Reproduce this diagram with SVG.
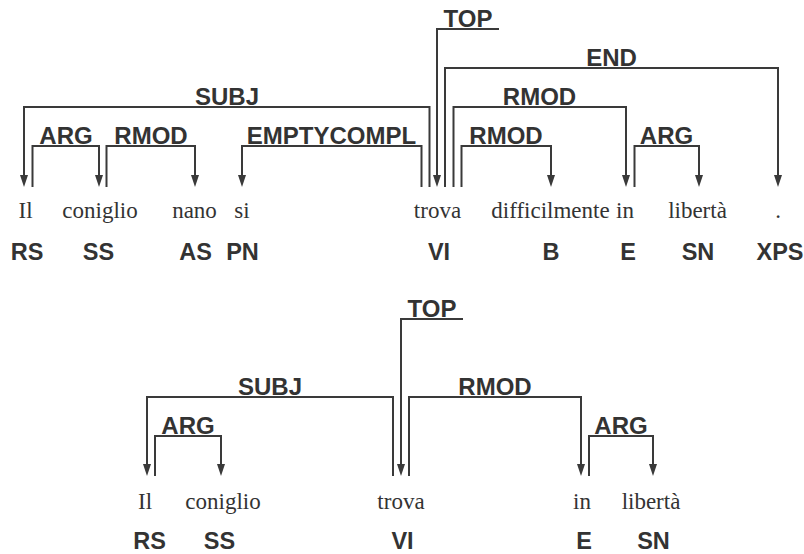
<svg xmlns="http://www.w3.org/2000/svg" width="804" height="554" viewBox="0 0 804 554">
<style>
.w{font-family:"Liberation Serif","Times New Roman",serif;font-size:23px;fill:#333;text-anchor:middle}
.p{font-family:"Liberation Sans",Arial,sans-serif;font-weight:bold;font-size:23.5px;fill:#333;text-anchor:middle}
.l{font-family:"Liberation Sans",Arial,sans-serif;font-weight:bold;font-size:24px;fill:#333;text-anchor:middle}
.c{fill:none;stroke:#3a3a3a;stroke-width:2}
.a{marker-end:url(#ah)}
</style>
<defs>
<marker id="ah" markerUnits="userSpaceOnUse" markerWidth="12" markerHeight="8" viewBox="0 0 12 8" refX="6" refY="4" orient="auto">
<path d="M0,0 L12,4 L0,8 z" fill="#3a3a3a"/>
</marker>
</defs>
<rect width="804" height="554" fill="#fff"/>
<g id="sent1">
<g id="t1-il"><text class="w" x="25.5" y="218">Il</text><text class="p" x="27" y="259.5">RS</text></g>
<g id="t1-coniglio"><text class="w" x="100" y="218">coniglio</text><text class="p" x="98.5" y="259.5">SS</text></g>
<g id="t1-nano"><text class="w" x="194.5" y="218">nano</text><text class="p" x="195.5" y="259.5">AS</text></g>
<g id="t1-si"><text class="w" x="242" y="218">si</text><text class="p" x="242.5" y="259.5">PN</text></g>
<g id="t1-trova"><text class="w" x="437.5" y="218">trova</text><text class="p" x="439" y="259.5">VI</text></g>
<g id="t1-difficilmente"><text class="w" x="550.5" y="218">difficilmente</text><text class="p" x="551" y="259.5">B</text></g>
<g id="t1-in"><text class="w" x="625" y="218">in</text><text class="p" x="628" y="259.5">E</text></g>
<g id="t1-liberta"><text class="w" x="697.5" y="218">libertà</text><text class="p" x="698" y="259.5">SN</text></g>
<g id="t1-punct"><text class="w" x="778" y="218">.</text><text class="p" x="780" y="259.5">XPS</text></g>
</g>
<g id="connectors1">
<path class="c a" d="M499,29 H437 V181"/>
<text class="l" x="468" y="27">TOP</text>
<path class="c a" d="M445,187 V68 H778 V181"/>
<text class="l" x="611.5" y="66">END</text>
<path class="c a" d="M429.5,187 V107 H24 V181"/>
<text class="l" x="227" y="105">SUBJ</text>
<path class="c a" d="M453.5,187 V107 H626 V181"/>
<text class="l" x="539.5" y="105">RMOD</text>
<path class="c a" d="M421.5,187 V146 H242 V181"/>
<text class="l" x="331.5" y="144">EMPTYCOMPL</text>
<path class="c a" d="M461.5,187 V146 H551 V181"/>
<text class="l" x="506" y="144">RMOD</text>
<path class="c a" d="M32.5,187 V146 H99 V181"/>
<text class="l" x="66" y="144">ARG</text>
<path class="c a" d="M106.5,187 V146 H195 V181"/>
<text class="l" x="151" y="144">RMOD</text>
<path class="c a" d="M634.5,187 V146 H699 V181"/>
<text class="l" x="666.5" y="144">ARG</text>
</g>
<g id="sent2">
<g id="t2-il"><text class="w" x="145" y="508.5">Il</text><text class="p" x="149.5" y="549">RS</text></g>
<g id="t2-coniglio"><text class="w" x="223" y="508.5">coniglio</text><text class="p" x="219.5" y="549">SS</text></g>
<g id="t2-trova"><text class="w" x="401" y="508.5">trova</text><text class="p" x="402.5" y="549">VI</text></g>
<g id="t2-in"><text class="w" x="582" y="508.5">in</text><text class="p" x="584" y="549">E</text></g>
<g id="t2-liberta"><text class="w" x="651" y="508.5">libertà</text><text class="p" x="653.5" y="549">SN</text></g>
</g>
<g id="connectors2">
<path class="c a" d="M463,319 H401 V470"/>
<text class="l" x="432" y="317">TOP</text>
<path class="c a" d="M393,476 V397 H147 V470"/>
<text class="l" x="270" y="395">SUBJ</text>
<path class="c a" d="M155,476 V436 H221 V470"/>
<text class="l" x="188" y="434">ARG</text>
<path class="c a" d="M409,476 V397 H581 V470"/>
<text class="l" x="495" y="395">RMOD</text>
<path class="c a" d="M589,476 V436 H653 V470"/>
<text class="l" x="621" y="434">ARG</text>
</g>
</svg>
